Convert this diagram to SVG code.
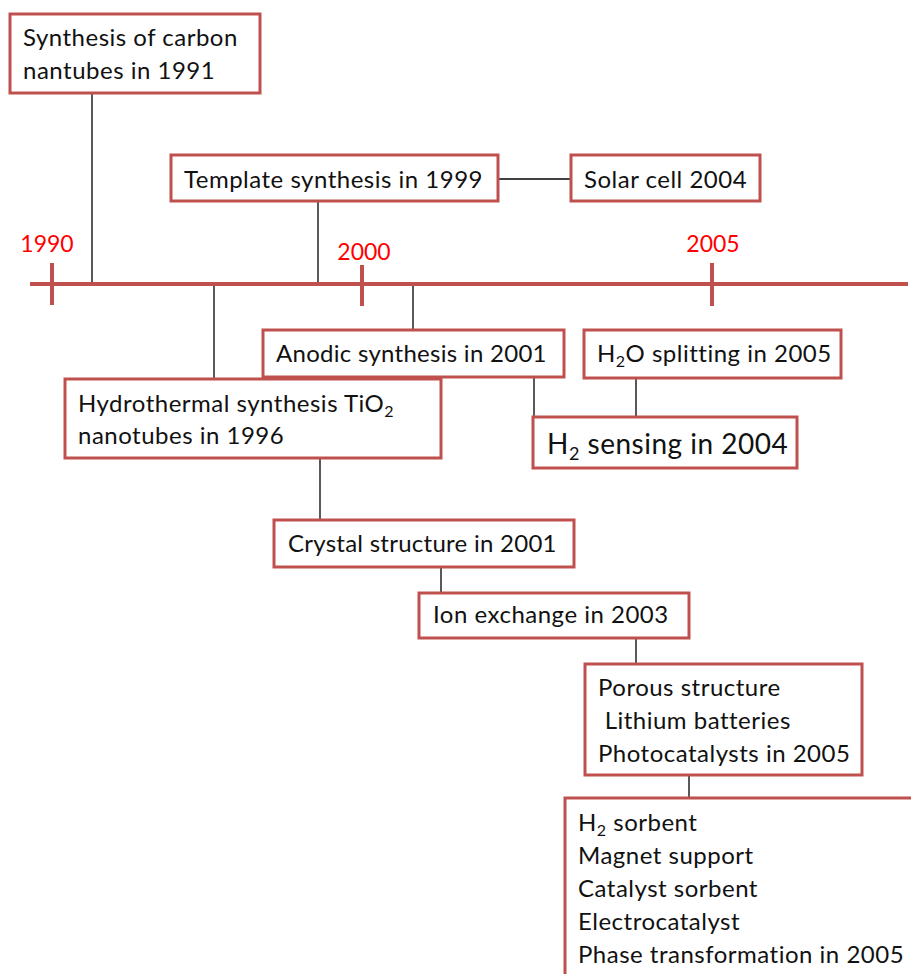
<svg xmlns="http://www.w3.org/2000/svg" width="911" height="974" viewBox="0 0 911 974">
<style>
.box{fill:#fff;stroke:#C0504D;stroke-width:3}
.t{font-family:Lato,"Liberation Sans",sans-serif;font-size:24px;letter-spacing:0.5px;fill:#111}
.big{font-size:28px}
.yr{font-family:Lato,"Liberation Sans",sans-serif;font-size:23px;fill:#f00;text-anchor:middle}
.c{stroke:#000;stroke-width:1.3;fill:none}
.axis{stroke:#C0504D;stroke-width:4;fill:none}
.sub{font-size:16px}
</style>
<rect width="911" height="974" fill="#fff"/>
<g id="connectors">
<line class="c" x1="92" y1="93" x2="92" y2="284"/>
<line class="c" x1="318" y1="201" x2="318" y2="284"/>
<line class="c" x1="498" y1="179" x2="571" y2="179"/>
<line class="c" x1="214" y1="284" x2="214" y2="379"/>
<line class="c" x1="413" y1="284" x2="413" y2="330"/>
<line class="c" x1="534" y1="377" x2="534" y2="417"/>
<line class="c" x1="636" y1="378" x2="636" y2="417"/>
<line class="c" x1="320" y1="458" x2="320" y2="520"/>
<line class="c" x1="441" y1="567" x2="441" y2="593"/>
<line class="c" x1="636" y1="638" x2="636" y2="664"/>
<line class="c" x1="689" y1="775" x2="689" y2="798"/>
</g>
<g id="axis">
<line class="axis" x1="30" y1="284" x2="908" y2="284"/>
<line class="axis" x1="52" y1="263" x2="52" y2="305"/>
<line class="axis" x1="362" y1="265" x2="362" y2="306"/>
<line class="axis" x1="712" y1="263" x2="712" y2="306"/>
<text class="yr" x="47" y="252">1990</text>
<text class="yr" x="364" y="260">2000</text>
<text class="yr" x="713" y="252">2005</text>
</g>
<g id="n1991">
<rect class="box" x="10" y="14" width="250" height="79"/>
<text class="t" x="23" y="46">Synthesis of carbon</text>
<text class="t" x="23" y="79">nantubes in 1991</text>
</g>
<g id="n1999">
<rect class="box" x="171" y="155" width="327" height="46"/>
<text class="t" x="184" y="188">Template synthesis in 1999</text>
</g>
<g id="nsolar">
<rect class="box" x="571" y="155" width="189" height="46"/>
<text class="t" x="584" y="188">Solar cell 2004</text>
</g>
<g id="nanodic">
<rect class="box" x="263" y="330" width="301" height="47"/>
<text class="t" x="276" y="362" textLength="271">Anodic synthesis in 2001</text>
</g>
<g id="nh2o">
<rect class="box" x="584" y="330" width="257" height="48"/>
<text class="t" x="597" y="362">H<tspan class="sub" dy="5">2</tspan><tspan dy="-5">O splitting in 2005</tspan></text>
</g>
<g id="nhydro">
<rect class="box" x="65" y="379" width="376" height="79"/>
<text class="t" x="78" y="412">Hydrothermal synthesis TiO<tspan class="sub" dy="5">2</tspan></text>
<text class="t" x="78" y="444">nanotubes in 1996</text>
</g>
<g id="nsensing">
<rect class="box" x="533" y="417" width="264" height="51"/>
<text class="t big" x="547" y="454">H<tspan class="sub" style="font-size:18px" dy="6">2</tspan><tspan dy="-6"> sensing in 2004</tspan></text>
</g>
<g id="ncrystal">
<rect class="box" x="274" y="520" width="300" height="47"/>
<text class="t" x="288" y="552" textLength="269">Crystal structure in 2001</text>
</g>
<g id="nion">
<rect class="box" x="419" y="593" width="270" height="45"/>
<text class="t" x="433" y="623">Ion exchange in 2003</text>
</g>
<g id="nporous">
<rect class="box" x="585" y="664" width="277" height="111"/>
<text class="t" x="598" y="696">Porous structure</text>
<text class="t" x="598" y="729" xml:space="preserve"> Lithium batteries</text>
<text class="t" x="598" y="762">Photocatalysts in 2005</text>
</g>
<g id="napps">
<rect class="box" x="565" y="798" width="360" height="190"/>
<text class="t" x="578" y="831">H<tspan class="sub" dy="5">2</tspan><tspan dy="-5"> sorbent</tspan></text>
<text class="t" x="578" y="864">Magnet support</text>
<text class="t" x="578" y="897">Catalyst sorbent</text>
<text class="t" x="578" y="930">Electrocatalyst</text>
<text class="t" x="578" y="963">Phase transformation in 2005</text>
</g>
</svg>
